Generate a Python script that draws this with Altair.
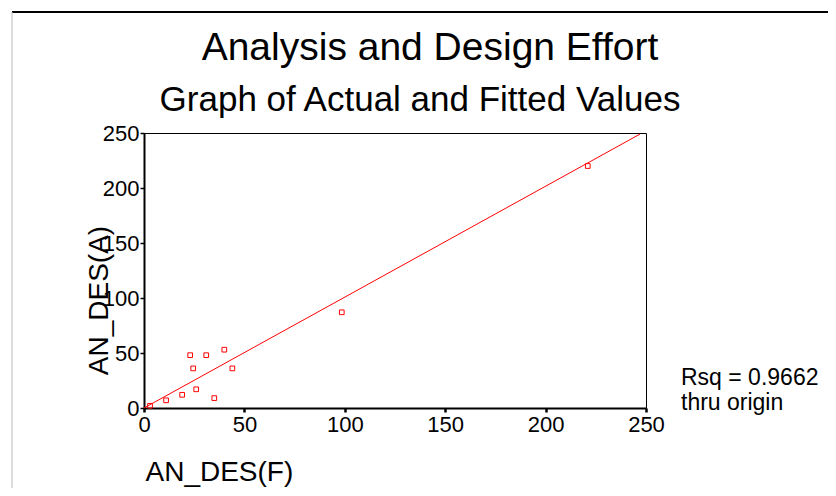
import altair as alt
import pandas as pd

# ---- data ----
fitted = [3, 11, 19, 26, 35, 23, 31, 24.5, 40, 44, 98.5, 221]   # AN_DES(F)
actual = [2, 7, 12, 17, 9, 48, 48, 36, 53, 36, 87, 220]          # AN_DES(A)
fit_line_x = [0, 247]
fit_line_y = [0, 249]
axis_ticks = [0, 50, 100, 150, 200, 250]
title_text = "Analysis and Design Effort"
subtitle_text = "Graph of Actual and Fitted Values"
x_title = "AN_DES(F)"
y_title = "AN_DES(A)"
note_line1 = "Rsq = 0.9662"
note_line2 = "thru origin"

FONT = "Liberation Sans"

pts = pd.DataFrame({"F": fitted, "A": actual})
line_df = pd.DataFrame({"F": fit_line_x, "A": fit_line_y})

xs = alt.Scale(domain=[0, 250], nice=False, zero=True)
ys = alt.Scale(domain=[0, 250], nice=False, zero=True)

common_axis = dict(
    values=axis_ticks, grid=False, labelFont=FONT, labelFontSize=22,
    labelColor="black", tickColor="black", tickSize=4,
    domainColor="black", domainWidth=2, labelFlush=False, labelOverlap=False,
    titleFont=FONT, titleFontSize=28, titleFontWeight="normal", titleColor="black",
)

x_axis = alt.Axis(title=x_title, tickWidth=2.5, labelPadding=2,
                  titleAlign="left", titleX=1, titleY=72,
                  titleBaseline="alphabetic", **common_axis)
y_axis = alt.Axis(title=y_title, tickWidth=1.5, labelPadding=1,
                  titleAngle=270, titleAlign="center", titleX=-37, titleY=167,
                  titleBaseline="alphabetic", **common_axis)

points = alt.Chart(pts).mark_point(
    shape="square", filled=False, color="red", size=22, strokeWidth=1, opacity=1
).encode(
    x=alt.X("F:Q", scale=xs, axis=x_axis),
    y=alt.Y("A:Q", scale=ys, axis=y_axis),
)

fit = alt.Chart(line_df).mark_line(color="red", strokeWidth=1).encode(
    x=alt.X("F:Q", scale=xs),
    y=alt.Y("A:Q", scale=ys),
)

def text_layer(txt, x, y, size, align="center"):
    return alt.Chart(pd.DataFrame({"t": [txt]})).mark_text(
        font=FONT, fontSize=size, color="black", align=align, baseline="alphabetic"
    ).encode(text="t:N", x=alt.value(x), y=alt.value(y))

title = text_layer(title_text, 286, -73, 39)
subtitle = text_layer(subtitle_text, 276, -22, 35)
note1 = text_layer(note_line1, 537, 252, 23, align="left")
note2 = text_layer(note_line2, 537, 277, 23, align="left")

one = pd.DataFrame({"a": [0]})
frame_top = alt.Chart(one).mark_rule(color="black", strokeWidth=2).encode(
    x=alt.value(-132), x2=alt.value(684), y=alt.value(-121)
)
frame_left = alt.Chart(one).mark_rule(color="#bbbbbb", strokeWidth=1).encode(
    x=alt.value(-132), y=alt.value(-121), y2=alt.value(355)
)

chart = alt.layer(
    frame_top, frame_left, fit, points, title, subtitle, note1, note2
).properties(
    width=502, height=275,
    autosize=alt.AutoSizeParams(type="none"),
    padding={"left": 136, "top": 125, "right": 182, "bottom": 80},
    background="white",
).configure(font=FONT).configure_view(stroke="black", strokeWidth=1)

chart.save("out.html", embed_options={"renderer": "svg", "actions": False})
